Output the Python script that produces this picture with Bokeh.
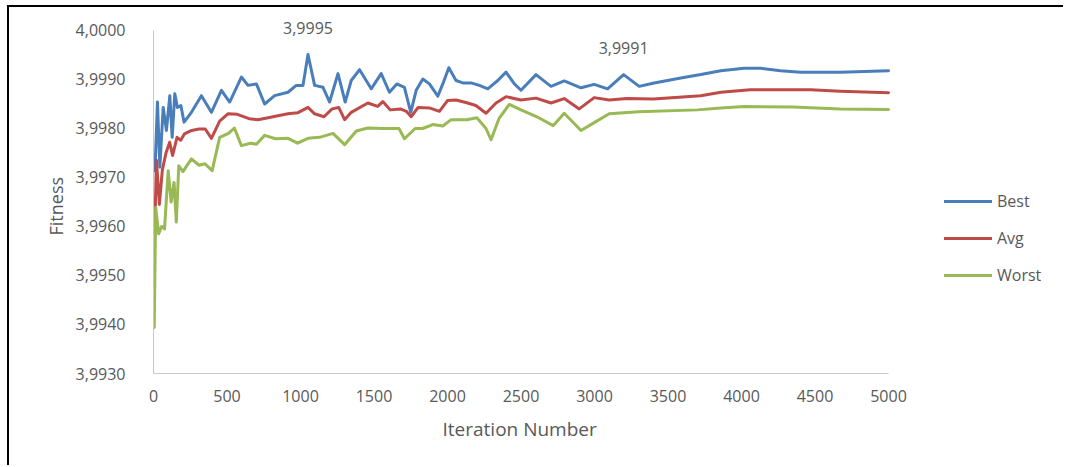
from bokeh.plotting import figure
from bokeh.models import Legend, LegendItem, Label, FixedTicker, CustomJSTickFormatter, Range1d, Title
from bokeh.embed import file_html
from bokeh.resources import INLINE

# ---------------- data ----------------
best_x = [10, 27, 43, 66, 88, 111, 127, 145, 163, 186, 208, 258, 326, 394, 462, 518, 598, 643, 700, 756,
          824, 915, 971, 1017, 1051, 1096, 1153, 1198, 1255, 1304, 1345, 1402, 1481, 1549, 1605, 1655,
          1707, 1750, 1787, 1832, 1877, 1934, 1968, 2009, 2058, 2104, 2160, 2217, 2274, 2342, 2398, 2455,
          2500, 2602, 2704, 2794, 2908, 2998, 3089, 3198, 3304, 3406, 3587, 3723, 3859, 4017, 4130, 4266,
          4402, 4674, 5000]
best_y = [3.99714, 3.99854, 3.99721, 3.99843, 3.99796, 3.99867, 3.99782, 3.99871, 3.99843, 3.99847,
          3.99813, 3.99833, 3.99867, 3.99833, 3.99878, 3.99854, 3.99905, 3.99888, 3.99891, 3.99850,
          3.99867, 3.99874, 3.99888, 3.99888, 3.99951, 3.99888, 3.99884, 3.99854, 3.99912, 3.99854,
          3.99898, 3.99920, 3.99881, 3.99912, 3.99874, 3.99891, 3.99884, 3.99833, 3.99878, 3.99901,
          3.99891, 3.99866, 3.99891, 3.99924, 3.99898, 3.99893, 3.99893, 3.99888, 3.99881, 3.99898,
          3.99915, 3.99891, 3.99878, 3.99910, 3.99886, 3.99897, 3.99883, 3.99890, 3.99881, 3.99910,
          3.99886, 3.99893, 3.99903, 3.99910, 3.99918, 3.99923, 3.99923, 3.99918, 3.99915, 3.99915,
          3.99918]

avg_x = [5, 20, 40, 60, 85, 110, 130, 160, 185, 210, 260, 310, 352, 394, 450, 506, 570, 650, 710, 780,
         830, 915, 980, 1051, 1096, 1160, 1215, 1260, 1300, 1345, 1458, 1525, 1560, 1610, 1680, 1720,
         1753, 1800, 1877, 1945, 2000, 2058, 2125, 2193, 2262, 2330, 2398, 2500, 2602, 2704, 2794, 2896,
         2998, 3100, 3220, 3400, 3723, 3859, 4060, 4470, 4674, 5000]
avg_y = [3.99548, 3.99735, 3.99645, 3.99715, 3.99750, 3.99772, 3.99745, 3.99782, 3.99776, 3.99789,
         3.99796, 3.99799, 3.99799, 3.99780, 3.99815, 3.99830, 3.99829, 3.99820, 3.99818, 3.99822,
         3.99825, 3.99830, 3.99832, 3.99843, 3.99830, 3.99824, 3.99840, 3.99843, 3.99818, 3.99833,
         3.99852, 3.99845, 3.99855, 3.99838, 3.99840, 3.99835, 3.99824, 3.99843, 3.99842, 3.99835,
         3.99857, 3.99858, 3.99853, 3.99847, 3.99831, 3.99852, 3.99865, 3.99858, 3.99862, 3.99852,
         3.99861, 3.99840, 3.99863, 3.99858, 3.99861, 3.99860, 3.99867, 3.99874, 3.99879, 3.99879,
         3.99876, 3.99873]

worst_x = [5, 15, 35, 55, 75, 100, 120, 140, 155, 172, 200, 258, 310, 350, 399, 450, 510, 550, 598, 660,
           700, 756, 830, 915, 980, 1051, 1130, 1221, 1300, 1380, 1458, 1560, 1670, 1707, 1780, 1830,
           1900, 1968, 2025, 2130, 2200, 2262, 2296, 2350, 2420, 2500, 2620, 2720, 2794, 2908, 2998, 3100,
           3300, 3700, 3859, 4017, 4350, 4674, 5000]
worst_y = [3.99394, 3.99639, 3.99585, 3.99600, 3.99595, 3.99714, 3.99650, 3.99690, 3.99609, 3.99724,
           3.99712, 3.99738, 3.99725, 3.99728, 3.99714, 3.99782, 3.99790, 3.99801, 3.99765, 3.99770,
           3.99768, 3.99786, 3.99779, 3.99780, 3.99770, 3.99780, 3.99782, 3.99790, 3.99767, 3.99795,
           3.99801, 3.99800, 3.99800, 3.99779, 3.99800, 3.99800, 3.99808, 3.99805, 3.99818, 3.99818,
           3.99822, 3.99800, 3.99777, 3.99820, 3.99849, 3.99838, 3.99822, 3.99806, 3.99831, 3.99796,
           3.99812, 3.99830, 3.99834, 3.99838, 3.99842, 3.99845, 3.99844, 3.99840, 3.99839]

x_ticks = [0, 500, 1000, 1500, 2000, 2500, 3000, 3500, 4000, 4500, 5000]
y_ticks = [3.9930, 3.9940, 3.9950, 3.9960, 3.9970, 3.9980, 3.9990, 4.0000]
series_names = ["Best", "Avg", "Worst"]
annot_x = [1051, 3198]
annot_y = [3.9995, 3.9991]

# ---------------- styling ----------------
FONT = "Open Sans"
TXT = "#595959"
COLORS = ["#4A7EBB", "#BE4B48", "#98B954"]
AXIS_COLOR = "#C8C8C8"

# frame extends past the axes' bounds so the legend and the peak labels sit inside it
p = figure(width=1056, height=460, output_backend="svg", toolbar_location=None,
           x_range=Range1d(0, 6170), y_range=Range1d(3.9930, 4.000306),
           min_border_left=144, min_border_right=5, min_border_top=8, min_border_bottom=94)
p.styles = {"border-left": "2px solid black", "border-top": "2px solid black",
            "margin-left": "7px", "margin-top": "5px"}
p.outline_line_color = None
p.grid.visible = False
p.background_fill_color = "white"

p.xaxis.ticker = FixedTicker(ticks=x_ticks)
p.yaxis.ticker = FixedTicker(ticks=y_ticks)
p.xaxis.bounds = (x_ticks[0], x_ticks[-1])
p.yaxis.bounds = (y_ticks[0], y_ticks[-1])
p.yaxis.formatter = CustomJSTickFormatter(code="return tick.toFixed(4).replace('.', ',');")
for ax in (p.xaxis[0], p.yaxis[0]):
    ax.axis_line_color = AXIS_COLOR
    ax.axis_line_width = 1
    ax.major_tick_line_color = None
    ax.minor_tick_line_color = None
    ax.major_label_text_font = FONT
    ax.major_label_text_font_size = "16px"
    ax.major_label_text_color = TXT
p.xaxis.major_label_standoff = 10
p.yaxis.major_label_standoff = 22

# axis titles as side titles so they can be centred on the bounded axes
p.add_layout(Title(text="Iteration Number", align="left", offset=289, standoff=18,
                   text_font=FONT, text_font_size="19px", text_font_style="normal",
                   text_color=TXT), "below")
p.add_layout(Title(text="Fitness", align="left", offset=138, standoff=10,
                   text_font=FONT, text_font_size="18px", text_font_style="normal",
                   text_color=TXT), "left")

renderers = []
for xs, ys, c in zip([best_x, avg_x, worst_x], [best_y, avg_y, worst_y], COLORS):
    r = p.line(xs, ys, line_color=c, line_width=3, line_join="round", line_cap="round")
    renderers.append(r)

legend = Legend(items=[LegendItem(label=n, renderers=[r]) for n, r in zip(series_names, renderers)],
                location=(791, 87), glyph_width=48, glyph_height=22, label_height=22,
                label_standoff=5, spacing=15, padding=0, margin=0,
                background_fill_alpha=0, border_line_color=None,
                label_text_font=FONT, label_text_font_size="16px", label_text_color=TXT)
p.add_layout(legend)

for ax_, ay_ in zip(annot_x, annot_y):
    p.add_layout(Label(x=ax_, y=ay_, text=f"{ay_:.4f}".replace(".", ","), y_offset=27,
                       text_align="center", text_baseline="middle", text_font=FONT,
                       text_font_size="16px", text_color=TXT))

open("out.html", "w").write(file_html(p, INLINE))
